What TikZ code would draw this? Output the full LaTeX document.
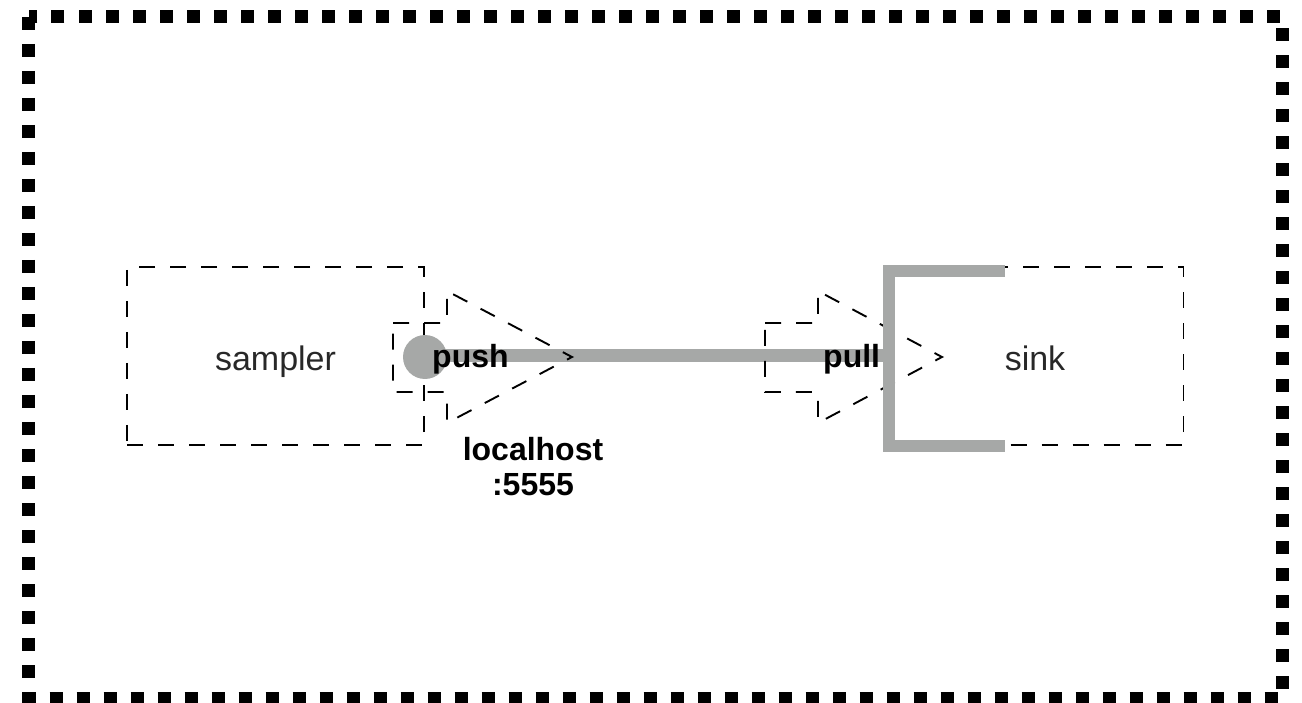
\documentclass[tikz,border=0pt]{standalone}
\usepackage{fontspec}
\setmainfont{Liberation Sans}
\definecolor{pgray}{RGB}{166,168,167}
\definecolor{txtc}{RGB}{40,40,40}
\begin{document}
\begin{tikzpicture}[x=1pt,y=-1pt,
  dbox/.style={draw=black, line width=1.9pt, dash pattern=on 16pt off 15pt},
  comp/.style={dbox, minimum width=297pt, minimum height=178pt, inner sep=0pt,
     text height=30pt, text depth=0pt, font=\fontsize{34}{38}\selectfont, text=txtc},
  portarrow/.style={draw=black, line width=1.9pt, dash pattern=on 16pt off 15pt, line join=miter},
  wire/.style={draw=pgray, line width=13pt},
  lbl/.style={font=\fontsize{32}{35}\selectfont\bfseries, inner sep=0pt, text=black}
]
\useasboundingbox (0,0) rectangle (1302,703);
% outer border
\draw[line width=13pt, dash pattern=on 13pt off 14pt] (28.5,17) rectangle (1282.5,698);

% components
\node[comp] (sampler) at (275.5,356) {sampler};
\node[comp] (sink) at (1035,356) {sink};

% wire and push dot
\coordinate (pullend) at (889,356);
\draw[wire] (425,356) -- (pullend);
\node[circle, fill=pgray, minimum size=44pt, inner sep=0pt] (pushdot) at (425,357) {};

% port arrows
\draw[portarrow] (393,323) -- (447,323) -- (447,291) -- (572,357) -- (447,423) -- (447,392) -- (393,392) -- cycle;
\draw[portarrow] (765,323) -- (818,323) -- (818,291) -- (942,357) -- (818,423) -- (818,392) -- (765,392) -- cycle;

% sink bracket
\draw[pgray, line width=12pt, line join=miter] (1005,271) -- (889,271) -- (889,446) -- (1005,446);

% labels
\node[lbl, anchor=base west] (push) at (432,368) {push};
\node[lbl, anchor=base west] (pull) at (823,368) {pull};
\node[lbl, align=center, anchor=base] (addr) at (533,495) {localhost\\:5555};
\end{tikzpicture}
\end{document}
